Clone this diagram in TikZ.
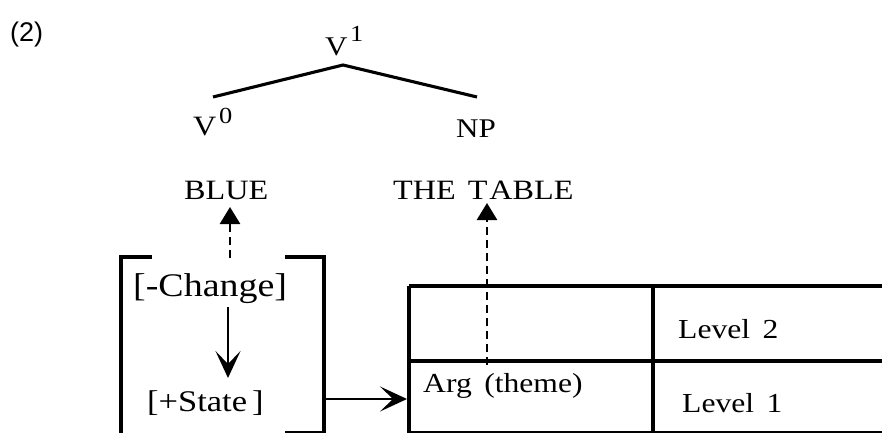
\documentclass[tikz,border=0pt]{standalone}
\usepackage{fontspec}
\setmainfont{Liberation Serif}[FakeStretch=1.15]
\newfontfamily\sansf{Liberation Sans}
\usetikzlibrary{arrows.meta}
\tikzset{
  lbl/.style={inner sep=0pt, anchor=base west},
  ln/.style={line width=3.1pt},
  thinln/.style={line width=1.8pt},
  uparr/.style={line width=2.6pt, dash pattern=on 8pt off 5pt, -{Triangle[length=17pt,width=20pt]}},
  barb/.style={line width=2.6pt, -{Stealth[length=27pt,width=25pt,inset=13pt]}}
}
\begin{document}
\begin{tikzpicture}[x=1pt,y=-1pt]
\useasboundingbox (0,0) rectangle (882,433);
% label
\node[lbl, font=\sansf\fontsize{27}{31}\selectfont] (num) at (10,42) {(2)};
% tree
\node[lbl, font=\fontsize{27}{32}\selectfont] (v1) at (325,56) {V};
\node[lbl, font=\fontsize{23}{26}\selectfont] (v1s) at (350,42) {1};
\node[lbl, font=\fontsize{28}{32}\selectfont] (v0) at (193,135) {V};
\node[lbl, font=\fontsize{23}{26}\selectfont] (v0s) at (219,123) {0};
\node[lbl, font=\fontsize{27}{30}\selectfont] (np) at (456,137) {NP};
\coordinate (top) at (343,65);
\coordinate (lft) at (213,97);
\coordinate (rgt) at (477,97);
\draw[ln] (lft) -- (top) -- (rgt);
% words
\node[lbl, font=\fontsize{28}{32}\selectfont] (blue) at (184,199) {BLUE};
\node[lbl, font=\fontsize{28}{32}\selectfont] (table) at (393,199) {THE\hspace{12pt}T\kern2pt ABLE};
% left bracket box
\draw[ln] (152,257) -- (121,257) -- (121,433);
\draw[ln] (285,257) -- (324,257) -- (324,433);
\draw[thinln] (285,432) -- (324,432);
\node[lbl, font=\fontsize{33}{38}\selectfont] (chg) at (133,296) {[-Change]};
\node[lbl, font=\fontsize{30}{34}\selectfont] (st) at (147,411) {[+State\,]};
% table
\draw[ln] (409,286) -- (882,286);
\draw[ln] (409,286) -- (409,433);
\draw[ln] (409,361) -- (882,361);
\draw[ln] (653,286) -- (653,433);
\draw[thinln] (409,432) -- (882,432);
\node[lbl, font=\fontsize{27.5}{32}\selectfont] (arg) at (423,392) {Arg\, (theme)};
\node[lbl, font=\fontsize{27.5}{32}\selectfont] (lv2) at (678,338) {Level\, 2};
\node[lbl, font=\fontsize{27.5}{32}\selectfont] (lv1) at (682,412) {Level\, 1};
% arrows
\coordinate (a1s) at (230,258);
\coordinate (a1e) at (230,207);
\draw[uparr] (a1s) -- (a1e);
\coordinate (a2s) at (487,365);
\coordinate (a2e) at (487,203);
\draw[uparr] (a2s) -- (a2e);
\coordinate (a3s) at (228,307);
\coordinate (a3e) at (228,378);
\draw[barb] (a3s) -- (a3e);
\coordinate (a4s) at (324,399);
\coordinate (a4e) at (407,399);
\draw[barb] (a4s) -- (a4e);
\end{tikzpicture}
\end{document}
